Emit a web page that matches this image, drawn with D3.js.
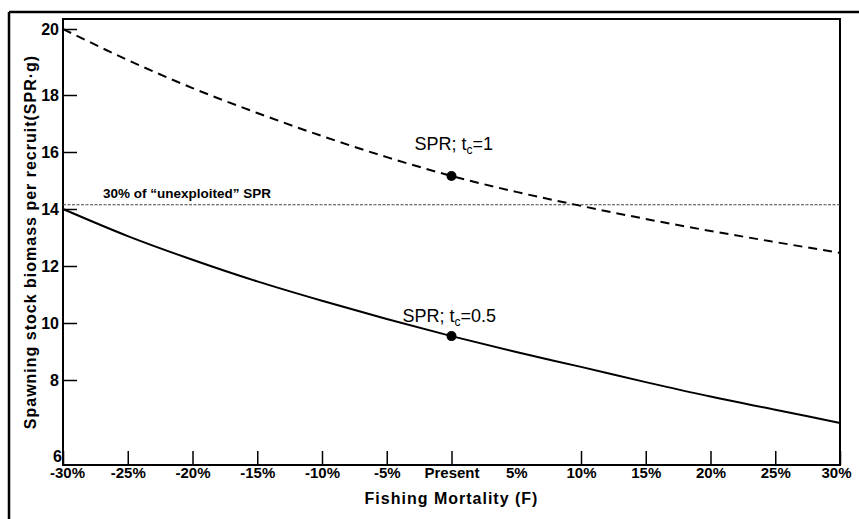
<!DOCTYPE html>
<html>
<head>
<meta charset="utf-8">
<script src="https://cdn.jsdelivr.net/npm/d3@7"></script>
<style>
  body { margin: 0; background: #fff; }
  svg text { font-family: "Liberation Sans", Arial, sans-serif; fill: #000; }
</style>
</head>
<body>
<div class="container"></div>
<script>
const w = 859;
const h = 519;

// fishing mortality change (%), 0 = present
const fChange = [-30, -25, -20, -15, -10, -5, 0, 5, 10, 15, 20, 25, 30];
const tickLabels = ["-30%", "-25%", "-20%", "-15%", "-10%", "-5%", "Present", "5%", "10%", "15%", "20%", "25%", "30%"];
// SPR (g), tc = 1 (dashed)
const sprTc1 = [20.0, 19.06, 18.21, 17.37, 16.56, 15.82, 15.16, 14.60, 14.11, 13.65, 13.23, 12.84, 12.46];
// SPR (g), tc = 0.5 (solid)
const sprTc05 = [14.0, 13.05, 12.22, 11.46, 10.78, 10.14, 9.54, 8.98, 8.46, 7.95, 7.61, 7.30, 6.99];
const yTicks = [6, 8, 10, 12, 14, 16, 18, 20];
const unexploited30 = 14.15;

const margin = { top: 19, right: 19, bottom: 54, left: 63 };
const width = w - margin.left - margin.right;
const height = h - margin.top - margin.bottom;

const svg = d3.select('.container').append('svg')
  .attr('width', w)
  .attr('height', h);

// outer frame of the scanned figure
svg.append('line')
  .attr('x1', 9).attr('x2', w).attr('y1', 12).attr('y2', 12)
  .attr('stroke', '#000').attr('stroke-width', 2.5);
svg.append('line')
  .attr('x1', 9).attr('x2', 9).attr('y1', 12).attr('y2', h)
  .attr('stroke', '#000').attr('stroke-width', 2.5);

const chart = svg.append('g')
  .attr('transform', `translate(${margin.left}, ${margin.top})`);

const x = d3.scaleLinear().domain([-30, 30]).range([0, width]);
// the printed axis is not evenly spaced at its ends, so a piecewise scale
const y = d3.scaleLinear().domain([6, 8, 18, 20]).range([height, 361, 76, 10]);

// plot box
chart.append('rect')
  .attr('width', width).attr('height', height)
  .attr('fill', 'none').attr('stroke', '#000').attr('stroke-width', 2);

// x axis
const xAxis = chart.append('g')
  .attr('transform', `translate(0, ${height})`)
  .call(d3.axisBottom(x).tickValues(fChange).tickSize(-14).tickPadding(5)
    .tickFormat((d, i) => tickLabels[i]));
xAxis.select('.domain').remove();
xAxis.selectAll('line').attr('stroke-width', 1.5);
xAxis.selectAll('.tick').filter(d => d === 5).select('line').remove();
xAxis.selectAll('text')
  .attr('font-size', 15).attr('font-weight', 'bold')
  .attr('dy', '0.55em');
xAxis.selectAll('.tick').filter(d => d === -30).select('text').attr('dx', 4);
xAxis.selectAll('.tick').filter(d => d === 30).select('text').attr('dx', -4);

// y axis
const yAxis = chart.append('g')
  .call(d3.axisLeft(y).tickValues(yTicks).tickSize(-14).tickPadding(4));
yAxis.select('.domain').remove();
yAxis.selectAll('line').attr('stroke-width', 1.5);
yAxis.selectAll('text')
  .attr('font-size', 16).attr('font-weight', 'bold');
yAxis.selectAll('.tick').filter(d => d === 6).select('text')
  .attr('dy', '-0.2em').attr('x', -1);
yAxis.selectAll('.tick').filter(d => d === 6).select('line').remove();

// 30% of unexploited SPR reference line
chart.append('line')
  .attr('x1', 0).attr('x2', width)
  .attr('y1', y(unexploited30)).attr('y2', y(unexploited30))
  .attr('stroke', '#444').attr('stroke-width', 1.2)
  .attr('stroke-dasharray', '3,1.5');
chart.append('text')
  .attr('x', 40).attr('y', y(unexploited30) - 7)
  .attr('font-size', 13.5).attr('font-weight', 'bold')
  .text('30% of \u201Cunexploited\u201D SPR');

const line = d3.line()
  .x((d, i) => x(fChange[i]))
  .y(d => y(d))
  .curve(d3.curveMonotoneX);

chart.append('path')
  .datum(sprTc1)
  .attr('d', line)
  .attr('fill', 'none').attr('stroke', '#000').attr('stroke-width', 2)
  .attr('stroke-dasharray', '9,6');

chart.append('path')
  .datum(sprTc05)
  .attr('d', line)
  .attr('fill', 'none').attr('stroke', '#000').attr('stroke-width', 2);

// present points
const present = fChange.indexOf(0);
[sprTc1, sprTc05].forEach(s => {
  chart.append('circle')
    .attr('cx', x(0)).attr('cy', y(s[present]))
    .attr('r', 5).attr('fill', '#000');
});

function seriesLabel(v, sub, val, dx, dy) {
  const t = chart.append('text')
    .attr('x', x(0) + dx).attr('y', y(v) + dy)
    .attr('font-size', 18);
  t.append('tspan').text('SPR; t');
  t.append('tspan').attr('font-size', 12).attr('dy', 4).text(sub);
  t.append('tspan').attr('dy', -4).text('=' + val);
}
seriesLabel(sprTc1[present], 'c', '1', -37, -26);
seriesLabel(sprTc05[present], 'c', '0.5', -49, -14);

// axis titles
svg.append('text')
  .attr('x', margin.left + x(0)).attr('y', 504)
  .attr('text-anchor', 'middle')
  .attr('font-size', 16).attr('font-weight', 'bold')
  .attr('letter-spacing', 1)
  .text('Fishing Mortality (F)');

svg.append('text')
  .attr('transform', `translate(36, ${margin.top + height / 2}) rotate(-90)`)
  .attr('text-anchor', 'middle')
  .attr('font-size', 16).attr('font-weight', 'bold')
  .attr('letter-spacing', 1)
  .text('Spawning stock biomass per recruit(SPR\u00B7g)');
</script>
</body>
</html>
